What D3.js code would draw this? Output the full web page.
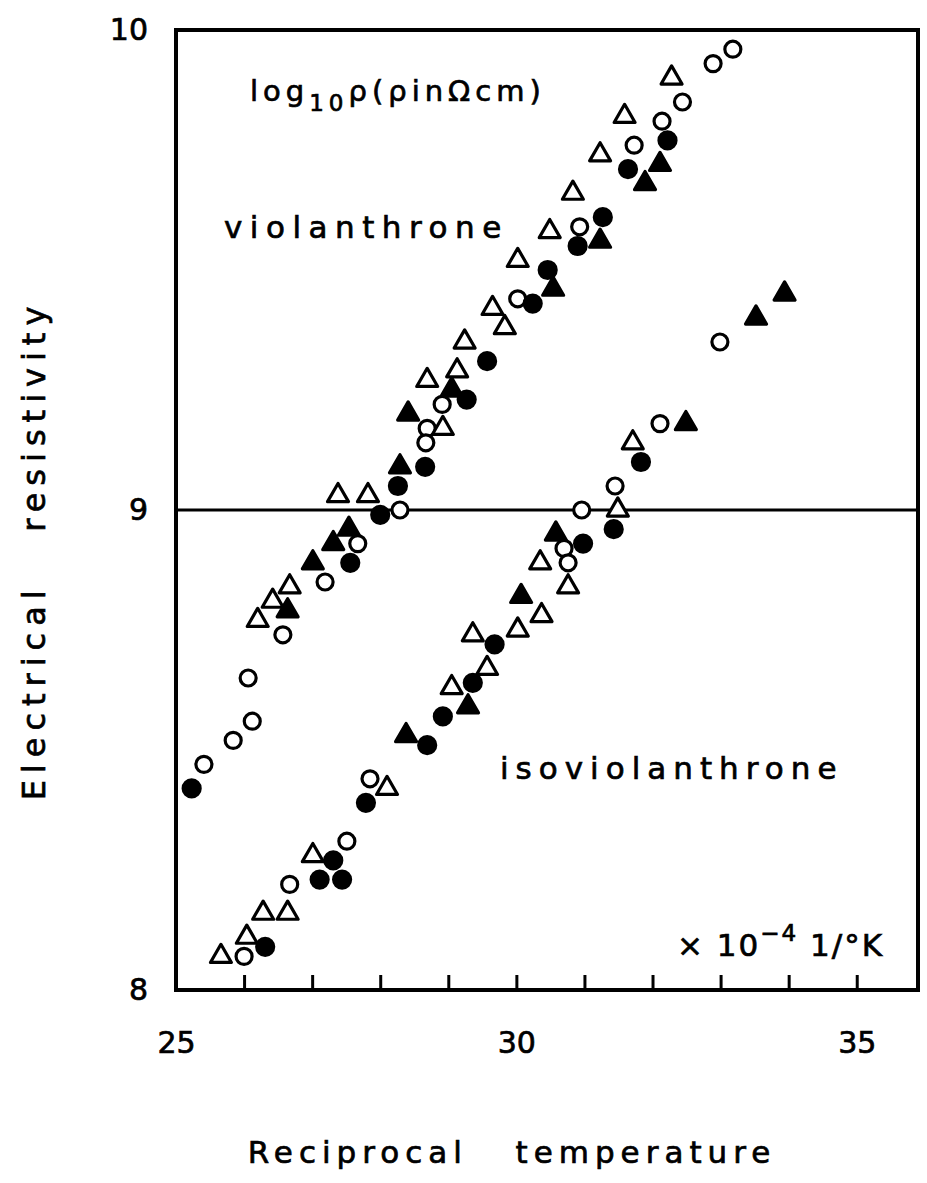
<!DOCTYPE html>
<html>
<head>
<meta charset="utf-8">
<script src="https://cdn.jsdelivr.net/npm/d3@7"></script>
<style>
  body { margin: 0; background: #fff; }
  text { font-family: "DejaVu Sans", sans-serif; fill: #000; stroke: #000; stroke-width: 0.7px; white-space: pre; }
</style>
</head>
<body>
<div id="chart"></div>
<script>
// log10 resistivity vs reciprocal temperature (x 1e-4 1/K)
// values

// violanthrone
var violOpenCircle = [[33.18,9.96],[32.89,9.93],[32.44,9.85],[32.14,9.81],[31.73,9.76],[30.93,9.59],
  [30.02,9.44],[28.91,9.22],[28.69,9.17],[28.67,9.14],[28.29,9.00],[27.67,8.93],[27.19,8.85],
  [26.57,8.74],[26.06,8.65],[26.12,8.56],[25.84,8.52],[25.41,8.47]];
var violFilledCircle = [[32.22,9.77],[31.64,9.71],[31.27,9.61],[30.90,9.55],[30.46,9.50],[30.24,9.43],
  [29.57,9.31],[29.27,9.23],[28.66,9.09],[28.26,9.05],[28.00,8.99],[27.56,8.89],[25.23,8.42]];
var violOpenTriangle = [[32.28,9.90],[31.59,9.82],[31.23,9.74],[30.83,9.66],[30.49,9.58],[30.02,9.52],
  [29.65,9.42],[29.83,9.38],[29.24,9.35],[29.13,9.29],[28.69,9.27],[28.92,9.17],[27.38,9.03],
  [27.82,9.03],[26.67,8.84],[26.42,8.81],[26.20,8.77]];
var violFilledTriangle = [[32.11,9.72],[31.89,9.68],[31.23,9.56],[30.54,9.46],[29.05,9.25],[28.41,9.20],
  [28.29,9.09],[27.54,8.96],[27.31,8.93],[27.01,8.89],[26.64,8.79]];

// isoviolanthrone
var isoOpenCircle = [[32.99,9.35],[32.11,9.18],[31.45,9.05],[30.96,9.00],[30.70,8.92],[30.76,8.89],
  [27.85,8.44],[27.51,8.31],[26.67,8.22],[26.00,8.07]];
var isoFilledCircle = [[31.83,9.10],[31.43,8.96],[30.98,8.93],[29.68,8.72],[29.36,8.64],[28.92,8.57],
  [28.69,8.51],[27.79,8.39],[27.31,8.27],[27.11,8.23],[27.44,8.23],[26.31,8.09]];
var isoOpenTriangle = [[31.71,9.14],[31.49,9.00],[30.35,8.89],[30.76,8.84],[30.37,8.78],[30.02,8.75],
  [29.36,8.74],[29.57,8.67],[29.05,8.63],[28.10,8.42],[27.01,8.28],[26.64,8.16],[26.28,8.16],
  [26.04,8.11],[25.66,8.07]];
var isoFilledTriangle = [[33.94,9.45],[33.52,9.40],[32.49,9.18],[30.58,8.95],[30.07,8.82],[29.29,8.59],
  [28.38,8.53]];

var xTicks = [25, 26, 27, 28, 29, 30, 31, 32, 33, 34, 35];
var xLabels = [25, 30, 35];
var yLabels = [8, 9, 10];

var width = 927, height = 1183;
var plotL = 176, plotR = 918, plotT = 30, plotB = 990;

var svg = d3.select("#chart").append("svg")
  .attr("width", width)
  .attr("height", height);

var x = d3.scaleLinear().domain([25, 35.9]).range([plotL, plotR]);
var y = d3.scaleLinear().domain([8, 10]).range([plotB, plotT]);

// x axis: inward ticks, labels only at 25/30/35
var xAxis = svg.append("g")
  .attr("transform", "translate(0," + plotB + ")")
  .call(d3.axisBottom(x)
    .tickValues(xTicks)
    .tickSize(-15)
    .tickPadding(42)
    .tickFormat(function(d) { return xLabels.indexOf(d) >= 0 ? d : ""; }));
xAxis.select(".domain").remove();
xAxis.selectAll(".tick line").attr("stroke-width", 3);
xAxis.selectAll("text").style("font-size", "30px").style("font-family", "DejaVu Sans");

var yAxis = svg.append("g")
  .attr("transform", "translate(" + plotL + ",0)")
  .call(d3.axisLeft(y).tickValues(yLabels).tickSize(0).tickPadding(28).tickFormat(d3.format("d")));
yAxis.select(".domain").remove();
yAxis.selectAll("text").style("font-size", "30px").style("font-family", "DejaVu Sans");

// frame
svg.append("rect")
  .attr("x", plotL).attr("y", plotT)
  .attr("width", plotR - plotL).attr("height", plotB - plotT)
  .attr("fill", "none").attr("stroke", "#000").attr("stroke-width", 4);

// line at log rho = 9
svg.append("line")
  .attr("x1", x(25)).attr("x2", x(35.9))
  .attr("y1", y(9)).attr("y2", y(9))
  .attr("stroke", "#000").attr("stroke-width", 3);

var tri = d3.symbol().type(d3.symbolTriangle).size(190);

function circles(data, filled) {
  svg.append("g").selectAll("circle")
    .data(data)
    .enter().append("circle")
    .attr("cx", function(d) { return x(d[0]); })
    .attr("cy", function(d) { return y(d[1]); })
    .attr("r", filled ? 8.5 : 8)
    .attr("fill", filled ? "#000" : "#fff")
    .attr("stroke", "#000")
    .attr("stroke-width", 3.2);
}

function triangles(data, filled) {
  svg.append("g").selectAll("path")
    .data(data)
    .enter().append("path")
    .attr("d", tri)
    .attr("transform", function(d) { return "translate(" + x(d[0]) + "," + y(d[1]) + ")"; })
    .attr("fill", filled ? "#000" : "#fff")
    .attr("stroke", "#000")
    .attr("stroke-width", 3.2)
    .attr("stroke-linejoin", "round");
}

circles(violOpenCircle, false);
triangles(violOpenTriangle, false);
circles(violFilledCircle, true);
triangles(violFilledTriangle, true);
circles(isoOpenCircle, false);
triangles(isoOpenTriangle, false);
circles(isoFilledCircle, true);
triangles(isoFilledTriangle, true);

// annotations
var t1 = svg.append("text").attr("x", 250).attr("y", 101)
  .style("font-size", "29px").style("letter-spacing", "5px");
t1.append("tspan").text("log");
t1.append("tspan").attr("dy", 10).style("font-size", "23px").text("10");
t1.append("tspan").attr("dy", -10).text("ρ(ρinΩcm)");

svg.append("text").attr("x", 224).attr("y", 238)
  .style("font-size", "31px").style("letter-spacing", "7.5px")
  .text("violanthrone");

svg.append("text").attr("x", 500).attr("y", 779)
  .style("font-size", "31px").style("letter-spacing", "7px")
  .text("isoviolanthrone");

var t2 = svg.append("text").attr("x", 677).attr("y", 956)
  .style("font-size", "31px").style("letter-spacing", "2px");
t2.append("tspan").text("× 10");
t2.append("tspan").attr("dy", -15).style("font-size", "23px").text("−4");
t2.append("tspan").attr("dy", 15).text(" 1/°K");

svg.append("text")
  .attr("transform", "translate(45," + 550 + ") rotate(-90)")
  .attr("text-anchor", "middle")
  .style("font-size", "32px").style("letter-spacing", "7px")
  .text("Electrical   resistivity");

svg.append("text")
  .attr("x", 512).attr("y", 1163)
  .attr("text-anchor", "middle")
  .style("font-size", "31px").style("letter-spacing", "6px")
  .text("Reciprocal   temperature");
</script>
</body>
</html>
